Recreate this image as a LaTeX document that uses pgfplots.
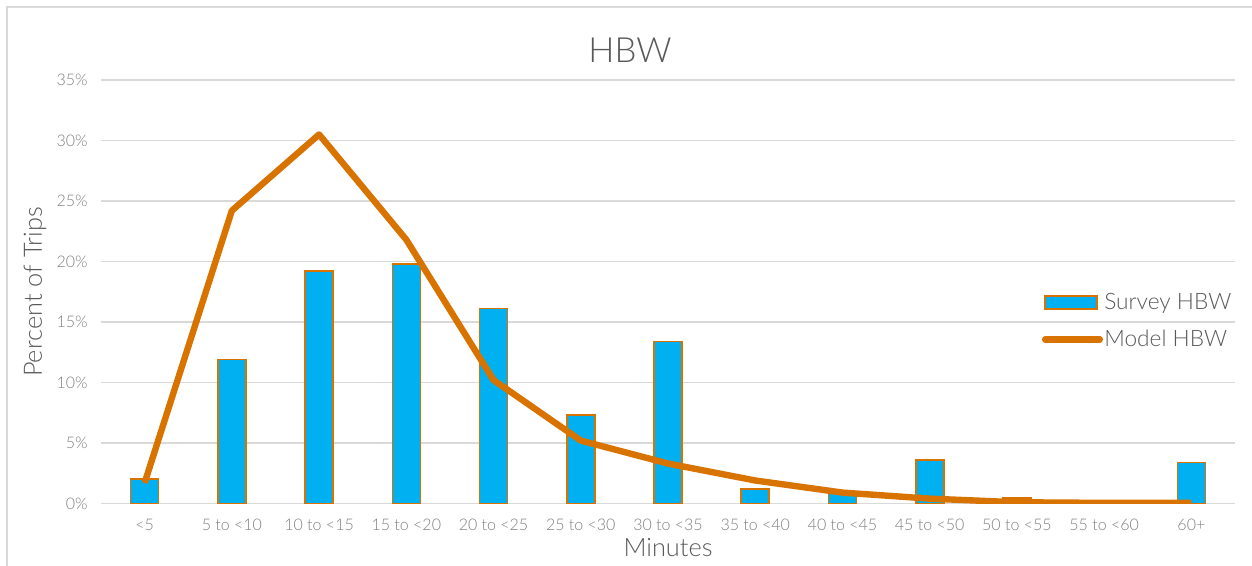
\documentclass[border=0pt]{standalone}
\usepackage{pgfplots}
\pgfplotsset{compat=1.18}
\usepackage{fontspec}
\setmainfont{Lato Light}

\definecolor{barblue}{HTML}{00B0F0}
\definecolor{lineorange}{HTML}{D97300}
\definecolor{gridgray}{HTML}{D9D9D9}
\definecolor{txtgray}{HTML}{595959}
\definecolor{ticklbl}{HTML}{7F7F7F}

\pgfplotsset{
  barlegend/.style={legend image code/.code={\draw[##1] (0pt,-4.9pt) rectangle (39pt,4.9pt);}},
  linelegend/.style={legend image code/.code={\draw[##1, line cap=round] (0pt,0pt) -- (41pt,0pt);}},
}

\begin{document}
\begin{tikzpicture}
% page = 1252 x 565 px, 1 px = 0.75pt
\useasboundingbox (0,0) rectangle (939pt,-423.75pt);
\draw[gridgray, line width=1.5pt] (5.25pt,-430pt) -- (5.25pt,-5.25pt) -- (945pt,-5.25pt);

\begin{axis}[
  at={(75.75pt,-377.6pt)}, anchor=south west,
  scale only axis, width=850.5pt, height=317.6pt,
  xmin=-0.5, xmax=12.5, ymin=0, ymax=35,
  axis line style={draw=none},
  tick style={draw=none},
  ymajorgrids, grid style={gridgray, line width=1.2pt},
  xtick={0,...,12},
  xticklabels={{<5},{5 to <10},{10 to <15},{15 to <20},{20 to <25},{25 to <30},{30 to <35},{35 to <40},{40 to <45},{45 to <50},{50 to <55},{55 to <60},{60+}},
  ytick={0,5,...,35},
  yticklabels={0\%,5\%,10\%,15\%,20\%,25\%,30\%,35\%},
  tick label style={font=\fontsize{12}{14}\selectfont, text=ticklbl},
  xticklabel style={yshift=-8pt},
  yticklabel style={xshift=-6.5pt},
  legend cell align=left,
  legend style={at={(0.826,0.431)}, anchor=west, draw=none, fill=none,
    font=\fontsize{17}{20}\selectfont, text=txtgray, row sep=10pt,
    nodes={inner xsep=1pt}},
]
\addplot[ybar, bar width=21pt, fill=barblue, draw=lineorange, line width=1.2pt, barlegend]
  coordinates {(0,2.0) (1,11.9) (2,19.2) (3,19.8) (4,16.1) (5,7.3) (6,13.4)
               (7,1.2) (8,1.0) (9,3.6) (10,0.45) (11,0) (12,3.4)};
\addlegendentry{Survey HBW}
\addplot[lineorange, line width=4.8pt, line join=round, mark=none, linelegend]
  coordinates {(0,1.7) (1,24.2) (2,30.5) (3,21.8) (4,10.2) (5,5.2) (6,3.3)
               (7,1.9) (8,0.9) (9,0.4) (10,0.1) (11,0.05) (12,0.05)};
\addlegendentry{Model HBW}
\end{axis}

\node[text=txtgray, font=\fontsize{26}{30}\selectfont] at (472.5pt,-37.5pt) {HBW};
\node[text=txtgray, font=\fontsize{19}{22}\selectfont, rotate=90] at (26.25pt,-219pt) {Percent of Trips};
\node[text=txtgray, font=\fontsize{19}{22}\selectfont] at (501pt,-411pt) {Minutes};
\end{tikzpicture}
\end{document}
